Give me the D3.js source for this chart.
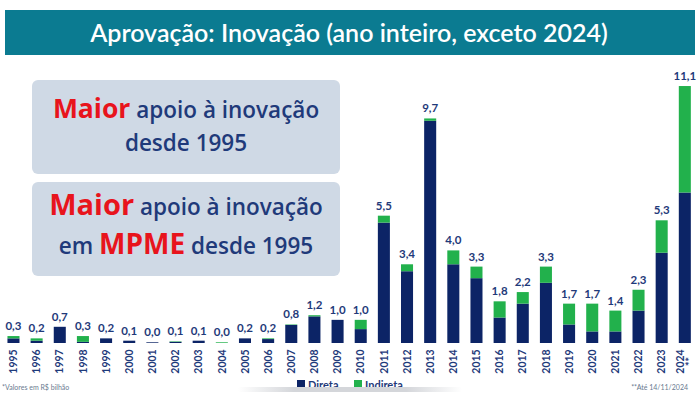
<!DOCTYPE html>
<html>
<head>
<meta charset="utf-8">
<script src="https://cdn.jsdelivr.net/npm/d3@7"></script>
<style>
  body { margin: 0; background: #fff; }
  svg { display: block; font-family: Lato, "Open Sans", sans-serif; }
</style>
</head>
<body>
<script>
// values in R$ bilhão
var years = ['1995', '1996', '1997', '1998', '1999', '2000', '2001', '2002', '2003', '2004',
  '2005', '2006', '2007', '2008', '2009', '2010', '2011', '2012', '2013', '2014',
  '2015', '2016', '2017', '2018', '2019', '2020', '2021', '2022', '2023', '2024'];
var direta = [0.2, 0.1, 0.7, 0.05, 0.2, 0.1, 0.03, 0.05, 0.1, 0.0,
  0.2, 0.17, 0.78, 1.15, 1.0, 0.6, 5.2, 3.1, 9.6, 3.4,
  2.8, 1.1, 1.7, 2.6, 0.8, 0.5, 0.5, 1.4, 3.9, 6.5];
var indireta = [0.1, 0.1, 0.0, 0.25, 0.0, 0.0, 0.0, 0.02, 0.0, 0.03,
  0.0, 0.03, 0.02, 0.05, 0.0, 0.4, 0.3, 0.3, 0.1, 0.6,
  0.5, 0.7, 0.5, 0.7, 0.9, 1.2, 0.9, 0.9, 1.4, 4.6];
var seriesNames = ['Direta', 'Indireta'];
var seriesColors = ['#0c2466', '#22b14c'];

var navy = '#1f3a7a';
var red = '#e8141c';

var svg = d3.select('body').append('svg')
  .attr('width', 700)
  .attr('height', 399);

// title bar
svg.append('rect')
  .attr('x', 5).attr('y', 10)
  .attr('width', 690).attr('height', 45)
  .attr('fill', '#0b7b91');
svg.append('text')
  .attr('x', 349).attr('y', 42)
  .attr('text-anchor', 'middle')
  .attr('fill', '#fff')
  .style('font-size', '25px')
  .style('font-weight', 600)
  .text('Aprovação: Inovação (ano inteiro, exceto 2024)');

var rows = years.map(function(y, i) {
  return { year: y, Direta: direta[i], Indireta: indireta[i] };
});
var stacked = d3.stack().keys(seriesNames)(rows);

var x = d3.scaleBand()
  .domain(years)
  .range([1.9, 696.4])
  .paddingInner(0.48)
  .paddingOuter(0.24);

var y = d3.scaleLinear()
  .domain([0, 12])
  .range([343, 343 - 12 * 23.15]);

svg.append('g').selectAll('g')
  .data(stacked).enter().append('g')
  .attr('fill', function(d, i) { return seriesColors[i]; })
  .selectAll('rect')
  .data(function(d) { return d; }).enter().append('rect')
  .attr('x', function(d) { return x(d.data.year); })
  .attr('y', function(d) { return y(d[1]); })
  .attr('width', x.bandwidth())
  .attr('height', function(d) { return y(d[0]) - y(d[1]); });

// totals over the bars
svg.append('g').selectAll('text')
  .data(rows).enter().append('text')
  .attr('x', function(d) { return x(d.year) + x.bandwidth() / 2; })
  .attr('y', function(d) { return y(d.Direta + d.Indireta) - 6; })
  .attr('text-anchor', 'middle')
  .attr('fill', navy)
  .style('font-size', '11.5px')
  .style('font-weight', 700)
  .text(function(d) { return (d.Direta + d.Indireta).toFixed(1).replace('.', ','); });

// year axis, rotated labels
var xAxis = svg.append('g').selectAll('text')
  .data(years).enter().append('text')
  .attr('transform', function(d) {
    return 'translate(' + (x(d) + x.bandwidth() / 2) + ',361.5) rotate(-90)';
  })
  .attr('text-anchor', 'middle')
  .attr('fill', navy)
  .style('font-size', '10.5px')
  .style('font-weight', 700);
xAxis.filter(function(d) { return d !== '2024'; })
  .attr('dy', '0.35em')
  .text(function(d) { return d; });
xAxis.filter(function(d) { return d === '2024'; })
  .each(function(d) {
    var t = d3.select(this);
    t.append('tspan').attr('x', 0).attr('dy', '-0.1em').text(d);
    t.append('tspan').attr('x', 0).attr('dy', '1em').text('**');
  });

// callout boxes
var boxes = [{ y: 80, h: 94 }, { y: 182, h: 94 }];
svg.append('g').selectAll('rect')
  .data(boxes).enter().append('rect')
  .attr('x', 32).attr('y', function(d) { return d.y; })
  .attr('width', 308).attr('height', function(d) { return d.h; })
  .attr('rx', 6)
  .attr('fill', '#cfd9e5');

var callouts = [
  { y: 118, parts: [['Maior', red, 26.5], [' apoio à inovação', navy, 22.5]] },
  { y: 151, parts: [['desde 1995', navy, 22.5]] },
  { y: 215, parts: [['Maior', red, 29], [' apoio à inovação', navy, 22.5]] },
  { y: 254, parts: [['em ', navy, 22.5], ['MPME', red, 28], [' desde 1995', navy, 22.5]] }
];
svg.append('g').selectAll('text')
  .data(callouts).enter().append('text')
  .attr('x', 186).attr('y', function(d) { return d.y; })
  .attr('text-anchor', 'middle')
  .style('font-family', '"Open Sans", sans-serif')
  .style('font-weight', 700)
  .selectAll('tspan')
  .data(function(d) { return d.parts; }).enter().append('tspan')
  .attr('fill', function(d) { return d[1]; })
  .style('font-size', function(d) { return d[2] + 'px'; })
  .style('font-weight', function(d) { return d[1] === red ? 700 : 600; })
  .text(function(d) { return d[0]; });

// footnotes
svg.append('text')
  .attr('x', 2).attr('y', 390)
  .attr('fill', '#6a7a90')
  .style('font-size', '7px')
  .text('*Valores em R$ bilhão');
svg.append('text')
  .attr('x', 688).attr('y', 390)
  .attr('text-anchor', 'end')
  .attr('fill', '#6a7a90')
  .style('font-size', '7px')
  .text('**Até 14/11/2024');

// legend
var legend = svg.append('g').selectAll('g')
  .data(seriesNames).enter().append('g')
  .attr('transform', function(d, i) { return 'translate(' + (297 + i * 57) + ',380)'; });
legend.append('rect')
  .attr('width', 8).attr('height', 8)
  .attr('fill', function(d, i) { return seriesColors[i]; });
legend.append('text')
  .attr('x', 11).attr('y', 9)
  .attr('fill', navy)
  .style('font-size', '11px')
  .style('font-weight', 700)
  .text(function(d) { return d; });

// grey scroll bar strip that covers the legend bottom
var grad = svg.append('defs').append('linearGradient').attr('id', 'strip');
grad.append('stop').attr('offset', '0%').attr('stop-color', '#fff');
grad.append('stop').attr('offset', '25%').attr('stop-color', '#d4d6da');
grad.append('stop').attr('offset', '75%').attr('stop-color', '#d4d6da');
grad.append('stop').attr('offset', '100%').attr('stop-color', '#fff');
svg.append('rect')
  .attr('x', 238).attr('y', 387)
  .attr('width', 224).attr('height', 12)
  .attr('fill', '#fff');
svg.append('rect')
  .attr('x', 238).attr('y', 387)
  .attr('width', 224).attr('height', 5)
  .attr('fill', 'url(#strip)');
</script>
</body>
</html>
